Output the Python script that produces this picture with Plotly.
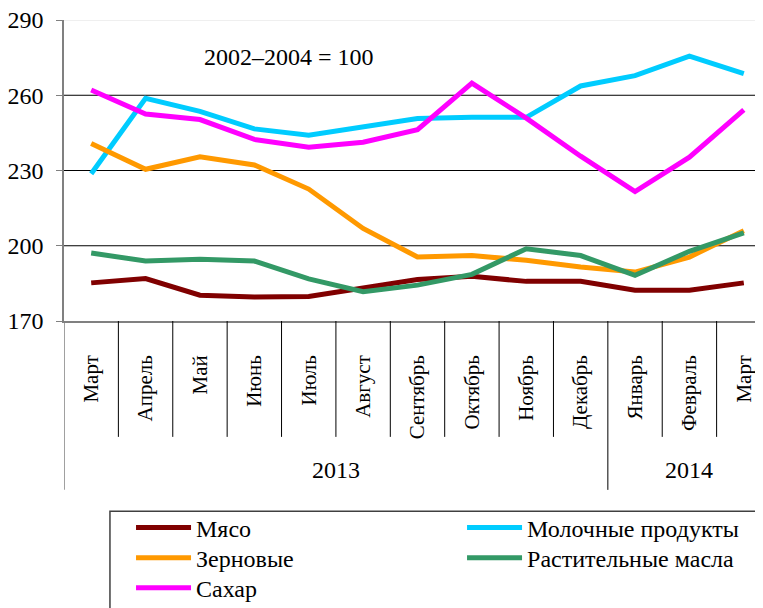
import plotly.graph_objects as go

months = ["Март", "Апрель", "Май", "Июнь", "Июль", "Август", "Сентябрь",
          "Октябрь", "Ноябрь", "Декабрь", "Январь", "Февраль", "Март"]
years = ["2013"] * 10 + ["2014"] * 3

meat = [185.2, 186.9, 180.3, 179.6, 179.8, 183.2, 186.5, 187.8, 185.8, 185.8, 182.3, 182.3, 185.2]
dairy = [228.7, 258.8, 253.6, 246.6, 244.1, 247.5, 250.7, 251.2, 251.2, 263.7, 267.8, 275.6, 268.6]
cereals = [240.8, 230.5, 235.5, 232.2, 222.6, 206.9, 195.5, 196.1, 194.2, 191.5, 189.5, 195.5, 206.0]
oils = [197.1, 193.9, 194.6, 193.9, 186.8, 181.7, 184.3, 188.6, 198.8, 196.1, 188.2, 197.8, 205.1]
sugar = [262.1, 252.5, 250.3, 242.4, 239.3, 241.3, 246.3, 264.8, 250.9, 235.7, 221.6, 235.3, 254.2]

y_ticks = [170, 200, 230, 260, 290]
grid_vals = [200, 230, 260]
top_val = 290

FONT = "Liberation Serif"
x_idx = list(range(len(months)))

# name, values, colour, legend column, legend row
series = [
    ("Мясо", meat, "#800000", 0, 0),
    ("Молочные продукты", dairy, "#00CCFF", 1, 0),
    ("Зерновые", cereals, "#FF9900", 0, 1),
    ("Растительные масла", oils, "#339966", 1, 1),
    ("Сахар", sugar, "#FF00FF", 0, 2),
]
leg_cols = [0.0948, 0.563]
leg_rows = [-0.613, -0.713, -0.813]

fig = go.Figure()
legend_layouts = {}
for k, (name, vals, color, col, row) in enumerate(series):
    lname = "legend" if k == 0 else f"legend{k + 1}"
    fig.add_trace(go.Scatter(x=x_idx, y=vals, mode="lines", name=name,
                             line=dict(color=color, width=5), legend=lname))
    legend_layouts[lname] = dict(x=leg_cols[col], y=leg_rows[row], xanchor="left", yanchor="top",
                                 orientation="v", bgcolor="rgba(0,0,0,0)", borderwidth=0,
                                 itemwidth=55, font=dict(family=FONT, size=24, color="black"))

shapes = []
# horizontal grid lines
for g in grid_vals:
    shapes.append(dict(type="line", xref="paper", yref="y", x0=0, x1=1, y0=g, y1=g,
                       line=dict(color="black", width=1), layer="below"))
shapes.append(dict(type="line", xref="paper", yref="y", x0=0, x1=1, y0=top_val, y1=top_val,
                   line=dict(color="#e0e0e0", width=1), layer="below"))
# month separators and year dividers
sep_bottom = -0.385
div_bottom = -0.561
for i in range(1, len(months)):
    is_div = years[i] != years[i - 1]
    shapes.append(dict(type="line", xref="x", yref="paper", x0=i - 0.5, x1=i - 0.5,
                       y0=0, y1=div_bottom if is_div else sep_bottom,
                       line=dict(color="black", width=1)))
shapes.append(dict(type="line", xref="x", yref="paper", x0=-0.5, x1=-0.5,
                   y0=0, y1=div_bottom, line=dict(color="#808080", width=1.5)))
# legend box
shapes.append(dict(type="rect", xref="paper", yref="paper", x0=0.065, x1=1.1,
                   y0=-0.632, y1=-1.2, line=dict(color="#404040", width=1.5)))

annotations = [dict(text="2002–2004 = 100", x=0.318, y=0.877, xref="paper", yref="paper",
                    xanchor="center", yanchor="middle", showarrow=False,
                    font=dict(family=FONT, size=24, color="black"))]
uniq_years = []
for yv in years:
    if yv not in uniq_years:
        uniq_years.append(yv)
for yv in uniq_years:
    idx = [i for i, v in enumerate(years) if v == yv]
    annotations.append(dict(text=yv, x=(idx[0] + idx[-1]) / 2, y=-0.495, xref="x", yref="paper",
                            xanchor="center", yanchor="middle", showarrow=False,
                            font=dict(family=FONT, size=24, color="black")))

fig.update_layout(
    width=763, height=608,
    margin=dict(l=56, r=0, t=12, b=295, autoexpand=False),
    paper_bgcolor="white", plot_bgcolor="white",
    font=dict(family=FONT, size=24, color="black"),
    showlegend=True,
    shapes=shapes,
    annotations=annotations,
    xaxis=dict(range=[-0.5, len(months) - 0.5], tickvals=x_idx, ticktext=months,
               tickangle=-90, ticks="", showline=True, linecolor="#808080", linewidth=1.5,
               showgrid=False, zeroline=False, ticklabelstandoff=24,
               ticklabeloverflow="allow",
               tickfont=dict(family=FONT, size=21, color="black")),
    yaxis=dict(range=[170, 290], tickvals=y_ticks, ticks="outside", ticklen=6,
               tickcolor="#808080", showline=True, linecolor="#808080", linewidth=1.5,
               showgrid=False, zeroline=False, ticklabelstandoff=8,
               ticklabeloverflow="allow",
               tickfont=dict(family=FONT, size=24, color="black")),
    **legend_layouts,
)

fig.write_html("out.html")
